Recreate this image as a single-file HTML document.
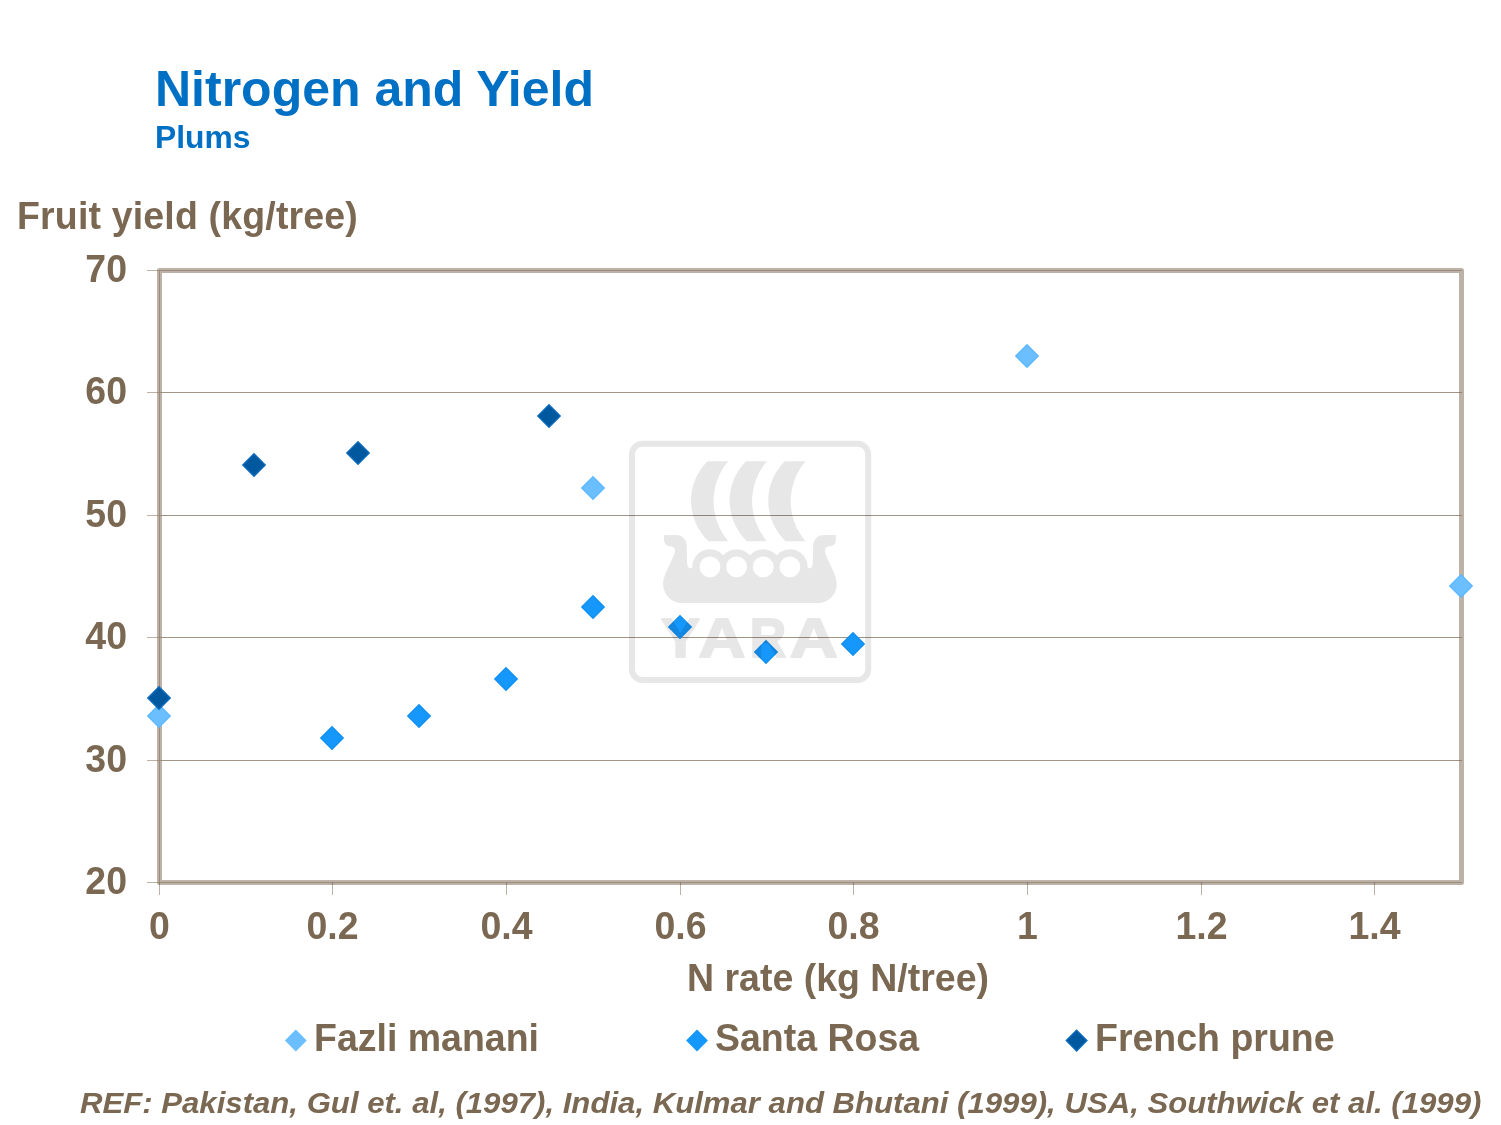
<!DOCTYPE html>
<html><head><meta charset="utf-8"><title>Nitrogen and Yield</title>
<style>
html,body{margin:0;padding:0;background:#fff;}
body{width:1501px;height:1125px;overflow:hidden;position:relative;font-family:"Liberation Sans",Arial,sans-serif;}
svg{position:absolute;left:0;top:0;display:block;}
text{font-family:"Liberation Sans",Arial,sans-serif;font-weight:bold;}
.t{fill:#7a6852;}
.h{fill:#0070c4;}
</style></head><body>
<svg width="1501" height="1125" viewBox="0 0 1501 1125">

<text class="h" x="155" y="106" font-size="50">Nitrogen and Yield</text>
<text class="h" x="155" y="148" font-size="31.8">Plums</text>
<text class="t" transform="translate(17.0 229.3) scale(1 1.055)" font-size="37.5" letter-spacing="0.17">Fruit yield (kg/tree)</text>
<rect x="159.5" y="270.5" width="1302" height="612" fill="none" stroke="#bdb2a7" stroke-width="5" stroke-linejoin="round"/>
<rect x="147" y="270" width="10" height="1" fill="#bdb1a5"/>
<rect x="157" y="270" width="1305" height="1" fill="#9d8c7b"/>
<rect x="147" y="392" width="10" height="1" fill="#bdb1a5"/>
<rect x="157" y="392" width="5" height="1" fill="#9d8c7b"/>
<rect x="162" y="392" width="1297" height="1" fill="#a19386"/>
<rect x="1459" y="392" width="3" height="1" fill="#908171"/>
<rect x="147" y="515" width="10" height="1" fill="#bdb1a5"/>
<rect x="157" y="515" width="5" height="1" fill="#9d8c7b"/>
<rect x="162" y="515" width="1297" height="1" fill="#a19386"/>
<rect x="1459" y="515" width="3" height="1" fill="#908171"/>
<rect x="147" y="637" width="10" height="1" fill="#bdb1a5"/>
<rect x="157" y="637" width="5" height="1" fill="#9d8c7b"/>
<rect x="162" y="637" width="1297" height="1" fill="#a19386"/>
<rect x="1459" y="637" width="3" height="1" fill="#908171"/>
<rect x="147" y="760" width="10" height="1" fill="#bdb1a5"/>
<rect x="157" y="760" width="5" height="1" fill="#9d8c7b"/>
<rect x="162" y="760" width="1297" height="1" fill="#a19386"/>
<rect x="1459" y="760" width="3" height="1" fill="#908171"/>
<rect x="147" y="882" width="10" height="1" fill="#bdb1a5"/>
<rect x="157" y="882" width="1305" height="1" fill="#9d8c7b"/>
<rect x="159" y="270" width="1" height="613" fill="#9d8c7b"/>
<rect x="159" y="882" width="1" height="3" fill="#8f7f6f"/>
<rect x="159" y="885" width="1" height="10" fill="#bdb1a5"/>
<rect x="332" y="882" width="1" height="3" fill="#8f7f6f"/>
<rect x="332" y="885" width="1" height="10" fill="#bdb1a5"/>
<rect x="506" y="882" width="1" height="3" fill="#8f7f6f"/>
<rect x="506" y="885" width="1" height="10" fill="#bdb1a5"/>
<rect x="680" y="882" width="1" height="3" fill="#8f7f6f"/>
<rect x="680" y="885" width="1" height="10" fill="#bdb1a5"/>
<rect x="853" y="882" width="1" height="3" fill="#8f7f6f"/>
<rect x="853" y="885" width="1" height="10" fill="#bdb1a5"/>
<rect x="1027" y="882" width="1" height="3" fill="#8f7f6f"/>
<rect x="1027" y="885" width="1" height="10" fill="#bdb1a5"/>
<rect x="1201" y="882" width="1" height="3" fill="#8f7f6f"/>
<rect x="1201" y="885" width="1" height="10" fill="#bdb1a5"/>
<rect x="1374" y="882" width="1" height="3" fill="#8f7f6f"/>
<rect x="1374" y="885" width="1" height="10" fill="#bdb1a5"/>
<text class="t" transform="translate(127.0 281.7) scale(1 1.055)" font-size="37.5" text-anchor="end">70</text>
<text class="t" transform="translate(127.0 403.7) scale(1 1.055)" font-size="37.5" text-anchor="end">60</text>
<text class="t" transform="translate(127.0 526.7) scale(1 1.055)" font-size="37.5" text-anchor="end">50</text>
<text class="t" transform="translate(127.0 648.7) scale(1 1.055)" font-size="37.5" text-anchor="end">40</text>
<text class="t" transform="translate(127.0 771.7) scale(1 1.055)" font-size="37.5" text-anchor="end">30</text>
<text class="t" transform="translate(127.0 893.7) scale(1 1.055)" font-size="37.5" text-anchor="end">20</text>
<text class="t" transform="translate(159.5 938.8) scale(1 1.055)" font-size="37.5" text-anchor="middle">0</text>
<text class="t" transform="translate(332.5 938.8) scale(1 1.055)" font-size="37.5" text-anchor="middle">0.2</text>
<text class="t" transform="translate(506.5 938.8) scale(1 1.055)" font-size="37.5" text-anchor="middle">0.4</text>
<text class="t" transform="translate(680.5 938.8) scale(1 1.055)" font-size="37.5" text-anchor="middle">0.6</text>
<text class="t" transform="translate(853.5 938.8) scale(1 1.055)" font-size="37.5" text-anchor="middle">0.8</text>
<text class="t" transform="translate(1027.5 938.8) scale(1 1.055)" font-size="37.5" text-anchor="middle">1</text>
<text class="t" transform="translate(1201.5 938.8) scale(1 1.055)" font-size="37.5" text-anchor="middle">1.2</text>
<text class="t" transform="translate(1374.5 938.8) scale(1 1.055)" font-size="37.5" text-anchor="middle">1.4</text>
<text class="t" transform="translate(838.0 991.2) scale(1 1.055)" font-size="37.5" text-anchor="middle">N rate (kg N/tree)</text>
<path d="M159.0 704.8L170.2 716.0L159.0 727.2L147.8 716.0Z" fill="#6cbfff" stroke="#5db8ff" stroke-width="1.4"/>
<path d="M593.0 476.8L604.2 488.0L593.0 499.2L581.8 488.0Z" fill="#6cbfff" stroke="#5db8ff" stroke-width="1.4"/>
<path d="M1027.0 344.8L1038.2 356.0L1027.0 367.2L1015.8 356.0Z" fill="#6cbfff" stroke="#5db8ff" stroke-width="1.4"/>
<path d="M1461.0 574.8L1472.2 586.0L1461.0 597.2L1449.8 586.0Z" fill="#6cbfff" stroke="#5db8ff" stroke-width="1.4"/>
<path d="M332.0 726.8L343.2 738.0L332.0 749.2L320.8 738.0Z" fill="#1597fb" stroke="#1090f4" stroke-width="1.4"/>
<path d="M419.0 704.8L430.2 716.0L419.0 727.2L407.8 716.0Z" fill="#1597fb" stroke="#1090f4" stroke-width="1.4"/>
<path d="M506.0 667.8L517.2 679.0L506.0 690.2L494.8 679.0Z" fill="#1597fb" stroke="#1090f4" stroke-width="1.4"/>
<path d="M593.0 595.8L604.2 607.0L593.0 618.2L581.8 607.0Z" fill="#1597fb" stroke="#1090f4" stroke-width="1.4"/>
<path d="M680.0 615.8L691.2 627.0L680.0 638.2L668.8 627.0Z" fill="#1597fb" stroke="#1090f4" stroke-width="1.4"/>
<path d="M766.0 640.8L777.2 652.0L766.0 663.2L754.8 652.0Z" fill="#1597fb" stroke="#1090f4" stroke-width="1.4"/>
<path d="M853.0 632.8L864.2 644.0L853.0 655.2L841.8 644.0Z" fill="#1597fb" stroke="#1090f4" stroke-width="1.4"/>
<path d="M159.0 686.8L170.2 698.0L159.0 709.2L147.8 698.0Z" fill="#00599f" stroke="#0c6abd" stroke-width="1.4"/>
<path d="M254.0 453.8L265.2 465.0L254.0 476.2L242.8 465.0Z" fill="#00599f" stroke="#0c6abd" stroke-width="1.4"/>
<path d="M358.0 441.8L369.2 453.0L358.0 464.2L346.8 453.0Z" fill="#00599f" stroke="#0c6abd" stroke-width="1.4"/>
<path d="M549.0 404.8L560.2 416.0L549.0 427.2L537.8 416.0Z" fill="#00599f" stroke="#0c6abd" stroke-width="1.4"/>
<g opacity="0.092" fill="#000">
<rect x="632" y="443.7" width="236.2" height="236.2" rx="10.5" ry="10.5" fill="none" stroke="#000" stroke-width="6"/>
<path fill-rule="evenodd" d="M707.50 461.2L728.30 461.2A61.5 61.5 0 0 0 728.30 541.2L708.30 541.2A55.8 55.8 0 0 1 707.50 461.2ZM746.10 461.2L766.90 461.2A61.5 61.5 0 0 0 766.90 541.2L746.90 541.2A55.8 55.8 0 0 1 746.10 461.2ZM784.70 461.2L805.50 461.2A61.5 61.5 0 0 0 805.50 541.2L785.50 541.2A55.8 55.8 0 0 1 784.70 461.2Z"/>
<path fill-rule="evenodd" d="M664.92 534.99L675.98 534.99C682.38 534.99 686.78 539.66 686.78 546.32L687.04 560.98C687.18 565.64 688.37 568.17 689.97 568.17C691.31 568.17 692.24 567.90 692.24 566.97A17.72 17.72 0 0 1 723.28 555.25A17.72 17.72 0 0 1 749.93 555.25A17.72 17.72 0 0 1 776.58 555.25A17.72 17.72 0 0 1 807.63 566.97C807.63 567.90 808.56 568.17 809.89 568.17C811.49 568.17 812.69 565.64 812.82 560.98L813.09 546.32C813.09 539.66 817.49 534.99 823.88 534.99L834.94 534.99Q835.88 534.99 835.88 536.06L835.88 539.92C835.88 543.65 833.21 546.05 829.88 546.05C826.95 546.32 824.55 548.32 824.95 551.38C825.48 556.98 836.81 574.30 836.81 583.63C836.81 594.29 828.55 603.08 817.22 603.08L682.64 603.08C671.32 603.08 663.06 594.29 663.06 583.63C663.06 574.30 674.38 556.98 674.92 551.38C675.32 548.32 672.92 546.32 669.99 546.05C666.66 546.05 663.99 543.65 663.99 539.92L663.99 536.06Q663.99 534.99 664.92 534.99ZM699.57 566.97a10.39 10.39 0 1 0 20.79 0a10.39 10.39 0 1 0 -20.79 0ZM726.22 566.97a10.39 10.39 0 1 0 20.79 0a10.39 10.39 0 1 0 -20.79 0ZM752.86 566.97a10.39 10.39 0 1 0 20.79 0a10.39 10.39 0 1 0 -20.79 0ZM779.51 566.97a10.39 10.39 0 1 0 20.79 0a10.39 10.39 0 1 0 -20.79 0Z"/>
<text y="657" font-size="55" stroke="#000" stroke-width="2" stroke-linejoin="round"><tspan x="661" textLength="39" lengthAdjust="spacingAndGlyphs">Y</tspan><tspan x="698.5" textLength="47" lengthAdjust="spacingAndGlyphs">A</tspan><tspan x="749.7" textLength="36.5" lengthAdjust="spacingAndGlyphs">R</tspan><tspan x="789.7" textLength="48" lengthAdjust="spacingAndGlyphs">A</tspan></text>
</g>
<path d="M295.8 1029.6L306.7 1040.5L295.8 1051.4L284.9 1040.5Z" fill="#6cbfff"/>
<text class="t" transform="translate(314.0 1050.8) scale(1 1.055)" font-size="37.5">Fazli manani</text>
<path d="M697.0 1029.6L707.9 1040.5L697.0 1051.4L686.1 1040.5Z" fill="#1597fb"/>
<text class="t" transform="translate(715.0 1050.8) scale(1 1.055)" font-size="37.5">Santa Rosa</text>
<path d="M1076.6 1030.3L1086.9 1040.6L1076.6 1050.9L1066.3 1040.6Z" fill="#00599f" stroke="#0c6abd" stroke-width="1.4"/>
<text class="t" transform="translate(1095.0 1050.8) scale(1 1.055)" font-size="37.5">French prune</text>
<text class="t" transform="translate(80 1112.7) scale(1 0.965)" font-size="31.15" font-style="italic">REF: Pakistan, Gul et. al, (1997), India, Kulmar and Bhutani (1999), USA, Southwick et al. (1999)</text>
</svg></body></html>
